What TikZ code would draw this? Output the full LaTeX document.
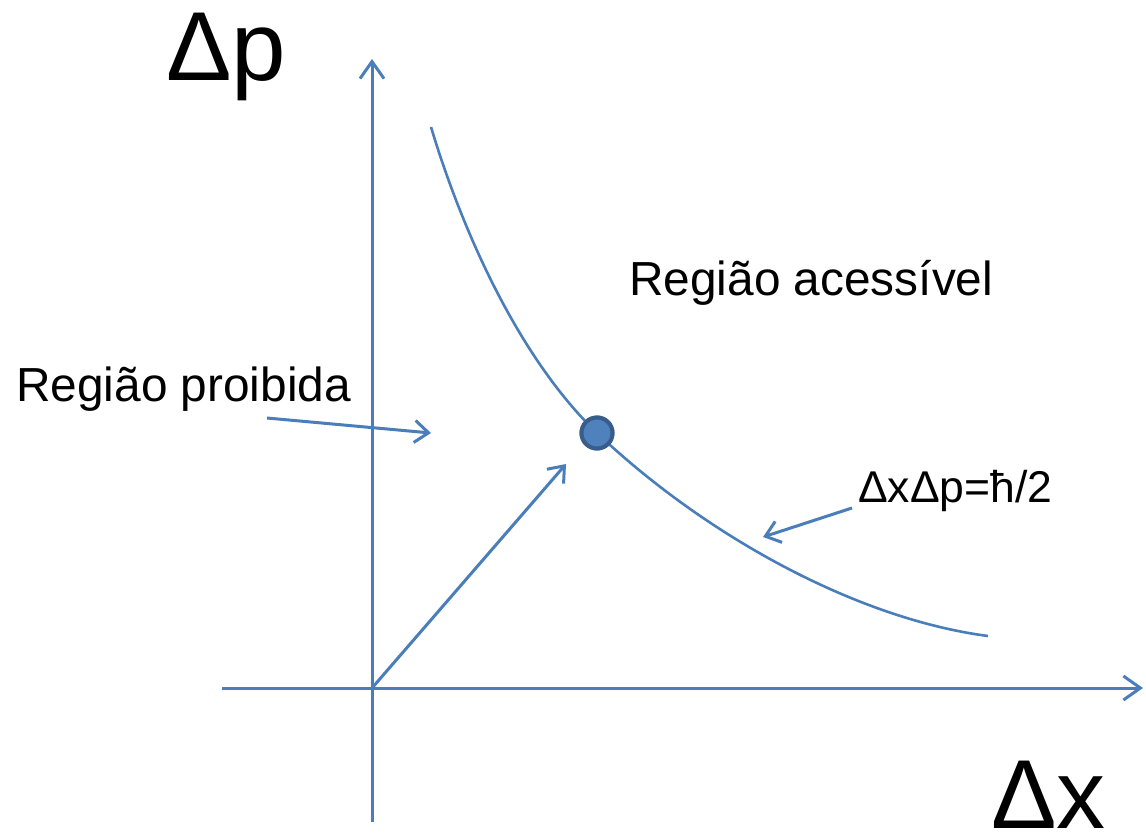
\documentclass[tikz,border=0pt]{standalone}
\usepackage{fontspec}
\setmainfont{Liberation Sans}
\usetikzlibrary{arrows.meta}
\definecolor{lineblue}{HTML}{4A7EBB}
\definecolor{dotfill}{HTML}{4F81BD}
\definecolor{dotline}{HTML}{385D8A}
\begin{document}
\begin{tikzpicture}[x=1pt,y=-1pt,
  axisline/.style={draw=lineblue, line width=3pt, -{Straight Barb[length=17pt,width=24pt]}},
  pointer/.style={draw=lineblue, line width=3pt, -{Straight Barb[length=14pt,width=22pt]}},
  curveline/.style={draw=lineblue, line width=2.6pt},
  bigtext/.style={inner sep=0pt, anchor=base west, font=\fontsize{98}{100}\selectfont},
  labeltext/.style={inner sep=0pt, anchor=base west, font=\fontsize{47.8}{50}\selectfont},
  eqtext/.style={inner sep=0pt, anchor=base west, font=\fontsize{44.5}{48}\selectfont},
  dotstyle/.style={circle, draw=dotline, fill=dotfill, line width=4pt, minimum size=31pt, inner sep=0pt}]
\useasboundingbox (0,0) rectangle (1146,836);

% axes
\coordinate (xstart) at (222,688);
\coordinate (xend) at (1143,688);
\coordinate (ystart) at (372,822);
\coordinate (yend) at (372,59);
\coordinate (origin) at (372,688);
\draw[axisline] (xstart) -- (xend);
\draw[axisline] (ystart) -- (yend);

% hyperbola
\coordinate (cstart) at (431,127);
\coordinate (cend) at (988,636);
\node[dotstyle] (pt) at (597,433) {};
\draw[curveline] (cstart) .. controls (461,227) and (517,356) .. (pt.center)
  .. controls (707,537) and (858,619) .. (cend);
\node[dotstyle] at (pt.center) {};

% diagonal arrow
\coordinate (diagtip) at (566,464);
\draw[pointer] (origin) -- (diagtip);

% labels
\node[bigtext] (dp) at (166,80) {Δp};
\node[bigtext] (dx) at (991,828) {Δx};
\node[labeltext] (acc) at (629,295) {Região acessível};
\node[labeltext] (proib) at (16,401) {Região proibida};
\node[eqtext] (eq) at (858,502) {ΔxΔp=ħ/2};

% pointers
\coordinate (pstart) at (267,418);
\coordinate (ptip) at (431,433);
\draw[pointer] (pstart) -- (ptip);
\coordinate (estart) at (852,508);
\coordinate (etip) at (763,537);
\draw[pointer] (estart) -- (etip);
\end{tikzpicture}
\end{document}
